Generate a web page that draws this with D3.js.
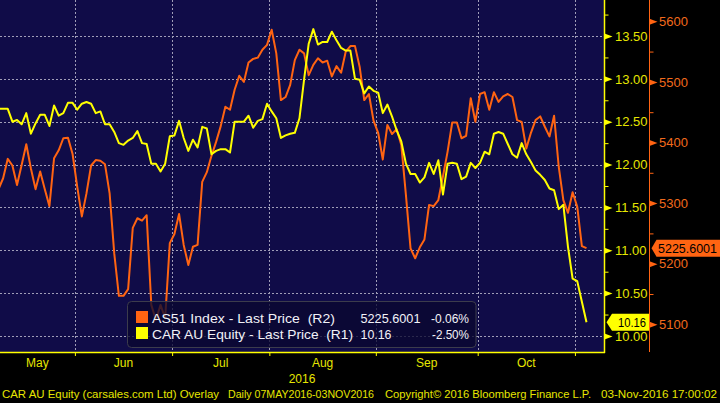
<!DOCTYPE html>
<html><head><meta charset="utf-8">
<script src="https://cdn.jsdelivr.net/npm/d3@7"></script>
<style>
html,body{margin:0;padding:0;background:#000;overflow:hidden}
svg{display:block}
text{font-family:"Liberation Sans",Arial,sans-serif;white-space:pre}
</style>
</head><body>
<svg id="c" width="720" height="403"></svg>
<script>
// ---- data ----
const startDate = "2016-05-09";
const endDate = "2016-11-03";
const holidays = ["2016-06-13"];
const monthLabels = ["May","Jun","Jul","Aug","Sep","Oct"];
const yearLabel = "2016";

const as51 = [
5323,5341,5373,5362,5330,5363,5397,5357,5323,5352,
5323,5295,5374,5387,5407,5408,5381,5327,5278,5316,
5362,5371,5370,5364,5316,5217,5147,5147,5158,5259,
5275,5271,5280,5132,5107,5132,5110,5234,5249,5282,
5231,5198,5228,5231,5335,5351,5378,5401,5427,5459,
5454,5487,5510,5500,5532,5538,5540,5553,5561,5586,
5547,5470,5475,5495,5536,5553,5547,5511,5528,5539,
5532,5535,5509,5526,5515,5550,5559,5559,5525,5470,
5480,5436,5416,5372,5429,5414,5422,5396,5313,5225,
5209,5227,5240,5297,5295,5305,5344,5385,5433,5433,
5407,5411,5473,5434,5480,5483,5454,5483,5467,5476,
5480,5475,5437,5434,5390,5416,5437,5443,5426,5410,
5444,5360,5305,5284,5318,5294,5229,5225.6];

const car = [
12.65,12.65,12.65,12.50,12.52,12.47,12.60,12.36,12.48,12.58,
12.58,12.45,12.69,12.57,12.60,12.72,12.72,12.64,12.71,12.73,
12.71,12.60,12.62,12.47,12.47,12.38,12.25,12.23,12.28,12.31,
12.39,12.25,12.24,12.01,12.01,11.92,12.01,12.33,12.34,12.51,
12.31,12.16,12.29,12.20,12.44,12.42,12.12,12.16,12.18,12.18,
12.14,12.50,12.50,12.50,12.57,12.43,12.51,12.53,12.71,12.62,
12.54,12.31,12.34,12.36,12.37,12.54,12.99,13.41,13.58,13.40,
13.43,13.43,13.55,13.45,13.36,13.33,13.33,13.00,12.99,12.83,
12.91,12.86,12.84,12.60,12.70,12.56,12.40,12.27,12.01,11.89,
11.89,11.79,11.85,12.02,11.89,12.05,11.65,12.01,12.02,12.01,
11.83,11.86,12.02,11.96,12.02,12.15,12.12,12.36,12.38,12.36,
12.24,12.12,12.08,12.25,12.12,12.03,11.93,11.88,11.82,11.72,
11.70,11.48,11.53,11.04,10.67,10.64,10.40,10.16];

const r1Major = [10.00,10.50,11.00,11.50,12.00,12.50,13.00,13.50];
const r1Minor = [10.25,10.75,11.25,11.75,12.25,12.75,13.25,13.75];
const r2Major = [5100,5200,5300,5400,5500,5600];
const r2Minor = [5150,5250,5350,5450,5550];

const legendNames = ["AS51 Index - Last Price  (R2)","CAR AU Equity - Last Price  (R1)"];
const legendLast = ["5225.6001","10.16"];
const legendChange = ["-0.06%","-2.50%"];
const tagLabels = ["5225.6001","10.16"];
const footer = ["CAR AU Equity (carsales.com Ltd) Overlay","Daily 07MAY2016-03NOV2016","Copyright\u00A9 2016 Bloomberg Finance L.P.","03-Nov-2016 17:00:02"];

// ---- layout ----
const W = 720, H = 403, plotR = 604, plotB = 352, r2X = 649.5;
const BG = "#100c48", YEL = "#ffff00", YELTXT = "#e6e600", ORG = "#ff6412", ORGTXT = "#f26a1c";

const parse = d3.utcParse("%Y-%m-%d"), fmt = d3.utcFormat("%Y-%m-%d");
const days = d3.utcDay.range(parse(startDate), d3.utcDay.offset(parse(endDate), 1))
  .filter(d => d.getUTCDay() % 6 !== 0 && !holidays.includes(fmt(d)));

const svg = d3.select("#c");
svg.append("rect").attr("width", W).attr("height", H).attr("fill", "#000");
svg.append("rect").attr("x", 0).attr("y", 0).attr("width", plotR).attr("height", plotB).attr("fill", BG);

const x = d3.scaleLinear().domain([0, days.length - 1]).range([-1.5, 586.5]);
const y1 = d3.scaleLinear().domain([9.813, 13.920]).range([plotB, 0]);
const y2 = d3.scaleLinear().domain([5054.3, 5635.1]).range([plotB, 0]);

// month boundaries (index - 0.5 of first trading day of each month)
const firstIdx = [0];
for (let i = 1; i < days.length; i++) if (days[i].getUTCMonth() !== days[i-1].getUTCMonth()) firstIdx.push(i);
const boundaries = firstIdx.slice(1).map(i => i - 0.5);

// grid
const grid = svg.append("g").attr("stroke", "#a09eb8").attr("stroke-width", 1).attr("stroke-dasharray", "2,2");
grid.selectAll("line.h").data(r1Major).join("line")
  .attr("x1", 0).attr("x2", plotR).attr("y1", d => Math.round(y1(d)) + 0.5).attr("y2", d => Math.round(y1(d)) + 0.5);
grid.selectAll("line.v").data(boundaries).join("line")
  .attr("y1", 0).attr("y2", plotB).attr("x1", d => Math.round(x(d)) + 0.5).attr("x2", d => Math.round(x(d)) + 0.5);

// lines
svg.append("clipPath").attr("id", "clip").append("rect").attr("x", 0).attr("y", 0).attr("width", plotR).attr("height", plotB);
const lineOrg = d3.line().x((d, i) => x(i)).y(d => y2(d));
const lineYel = d3.line().x((d, i) => x(i)).y(d => y1(d));
svg.append("path").datum(as51).attr("clip-path", "url(#clip)").attr("d", lineOrg)
  .attr("fill", "none").attr("stroke", ORG).attr("stroke-width", 2).attr("stroke-linejoin", "round");
svg.append("path").datum(car).attr("clip-path", "url(#clip)").attr("d", lineYel)
  .attr("fill", "none").attr("stroke", YEL).attr("stroke-width", 2).attr("stroke-linejoin", "round");

// legend
const lg = svg.append("g");
lg.append("rect").attr("x", 127.5).attr("y", 301.5).attr("width", 348.5).attr("height", 46).attr("rx", 4)
  .attr("fill", "#0a0830").attr("fill-opacity", 0.78).attr("stroke", "#3c3c4c").attr("stroke-width", 1);
const lgColors = [ORG, YEL];
const lgY = [322.5, 338.5];
const nameW = [183, 201], lastW = [60, 31], chgW = [38, 37];
lgColors.forEach((c, k) => {
  lg.append("rect").attr("x", 136).attr("y", lgY[k] - 11.5).attr("width", 12).attr("height", 12).attr("fill", c);
  lg.append("text").attr("x", 152).attr("y", lgY[k]).attr("fill", "#f2f2f8").attr("font-size", 13.5)
    .attr("textLength", nameW[k]).attr("lengthAdjust", "spacingAndGlyphs").text(legendNames[k]);
  lg.append("text").attr("x", 360.5).attr("y", lgY[k]).attr("fill", "#f2f2f8").attr("font-size", 13.5)
    .attr("textLength", lastW[k]).attr("lengthAdjust", "spacingAndGlyphs").text(legendLast[k]);
  lg.append("text").attr("x", 469 - chgW[k]).attr("y", lgY[k]).attr("fill", "#f2f2f8").attr("font-size", 13.5)
    .attr("textLength", chgW[k]).attr("lengthAdjust", "spacingAndGlyphs").text(legendChange[k]);
});

// bottom axis
const xAxis = d3.axisBottom(x).tickValues(boundaries).tickSize(4).tickFormat("");
const gx = svg.append("g").attr("transform", `translate(0,${plotB})`).call(xAxis);
gx.select(".domain").remove();
gx.selectAll(".tick line").attr("stroke", YEL).attr("stroke-width", 1);
svg.append("line").attr("x1", 0).attr("x2", plotR + 1).attr("y1", plotB + 0.5).attr("y2", plotB + 0.5).attr("stroke", YEL).attr("stroke-width", 1.5);
const spans = firstIdx.map((s, k) => [s - 0.5, (k + 1 < firstIdx.length ? firstIdx[k + 1] : days.length) - 0.5]);
svg.append("g").selectAll("text").data(monthLabels).join("text")
  .attr("x", (d, k) => (Math.max(0, x(spans[k][0])) + x(spans[k][1])) / 2)
  .attr("y", 367).attr("text-anchor", "middle").attr("fill", YELTXT).attr("font-size", 12).text(d => d);
svg.append("text").attr("x", plotR / 2).attr("y", 383).attr("text-anchor", "middle").attr("fill", YELTXT).attr("font-size", 12).text(yearLabel);

// R1 axis (yellow)
svg.append("line").attr("x1", plotR + 0.5).attr("x2", plotR + 0.5).attr("y1", 0).attr("y2", plotB + 1).attr("stroke", YEL).attr("stroke-width", 1.5);
const r1 = svg.append("g").attr("transform", `translate(${plotR + 0.5},0)`)
  .call(d3.axisRight(y1).tickValues(r1Major).tickFormat(d3.format(".2f")).tickSize(0).tickPadding(10.5));
r1.select(".domain").remove();
r1.selectAll(".tick text").attr("fill", YELTXT).attr("font-size", 13).attr("font-family", "Liberation Sans, Arial, sans-serif");
r1.selectAll(".tick").append("path").attr("d", "M0,-3L8,0L0,3Z").attr("fill", YEL);
const r1m = svg.append("g").attr("transform", `translate(${plotR + 0.5},0)`)
  .call(d3.axisRight(y1).tickValues(r1Minor).tickFormat("").tickSize(4));
r1m.select(".domain").remove();
r1m.selectAll(".tick line").attr("stroke", YEL);

// R2 axis (orange)
svg.append("line").attr("x1", r2X).attr("x2", r2X).attr("y1", 0).attr("y2", plotB).attr("stroke", ORG).attr("stroke-width", 1);
const r2 = svg.append("g").attr("transform", `translate(${r2X},0)`)
  .call(d3.axisRight(y2).tickValues(r2Major).tickFormat(d3.format("d")).tickSize(0).tickPadding(9.5));
r2.select(".domain").remove();
r2.selectAll(".tick text").attr("fill", ORGTXT).attr("font-size", 13).attr("font-family", "Liberation Sans, Arial, sans-serif");
r2.selectAll(".tick").append("path").attr("d", "M0,-3L8,0L0,3Z").attr("fill", ORG);
const r2m = svg.append("g").attr("transform", `translate(${r2X},0)`)
  .call(d3.axisRight(y2).tickValues(r2Minor).tickFormat("").tickSize(4));
r2m.select(".domain").remove();
r2m.selectAll(".tick line").attr("stroke", ORG);

// last value tags
const ty1 = y1(car[car.length - 1]);
svg.append("path").attr("d", `M${plotR + 2.5},${ty1}L${plotR + 8},${ty1 - 8.5}L${r2X - 0.5},${ty1 - 8.5}L${r2X - 0.5},${ty1 + 8.5}L${plotR + 8},${ty1 + 8.5}Z`).attr("fill", YEL);
svg.append("text").attr("x", 618).attr("y", ty1 + 4.5).attr("fill", "#000").attr("font-size", 13)
  .attr("textLength", 28).attr("lengthAdjust", "spacingAndGlyphs").text(tagLabels[1]);
const ty2 = y2(as51[as51.length - 1]);
svg.append("path").attr("d", `M${r2X + 2},${ty2}L${r2X + 7},${ty2 - 8.5}L${W},${ty2 - 8.5}L${W},${ty2 + 8.5}L${r2X + 7},${ty2 + 8.5}Z`).attr("fill", ORG);
svg.append("text").attr("x", 658).attr("y", ty2 + 4.5).attr("fill", "#000").attr("font-size", 13).attr("textLength", 59).attr("lengthAdjust", "spacingAndGlyphs").text(tagLabels[0]);

// footer
const fx = [2, 228, 385, 601], fw = [217, 146, 206, 116];
svg.append("g").selectAll("text").data(footer).join("text")
  .attr("x", (d, k) => fx[k]).attr("y", 397.5).attr("fill", YELTXT).attr("font-size", 11)
  .attr("textLength", (d, k) => fw[k]).attr("lengthAdjust", "spacingAndGlyphs").text(d => d);
</script>
</body></html>
